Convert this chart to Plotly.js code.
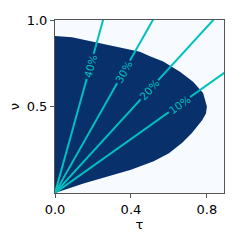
<!DOCTYPE html>
<html><head><meta charset="utf-8">
<script src="https://cdn.plot.ly/plotly-3.0.1.min.js"></script>
<style>html,body{margin:0;padding:0;background:#fff;}#chart{width:241px;height:241px;}</style>
</head><body><div id="chart"></div>
<script>
// Boundary of the feasible region (tau, nu)
const boundaryTau = [0.0, 0.09, 0.2, 0.28, 0.36, 0.447, 0.5, 0.57, 0.66, 0.727, 0.78, 0.80, 0.795, 0.775, 0.72, 0.67, 0.6, 0.52, 0.4, 0.33, 0.15, 0.0, 0.0];
const boundaryNu  = [0.908, 0.9, 0.875, 0.855, 0.838, 0.817, 0.79, 0.76, 0.70, 0.643, 0.578, 0.5, 0.46, 0.42, 0.345, 0.29, 0.23, 0.183, 0.134, 0.113, 0.055, 0.0, 0.908];
// Lines through the origin: label, slope (nu / tau), nu of label
const lineLabels = ["10%", "20%", "30%", "40%"];
const lineSlopes = [0.78, 1.2, 1.94, 3.95];
const labelNu = [0.51, 0.595, 0.70, 0.73];

const xMax = 0.89;
const plotW = 169, plotH = 173;
const cyan = '#00bfbf';
const navy = '#08306b';

const traces = [{
  x: boundaryTau, y: boundaryNu, type: 'scatter', mode: 'lines',
  fill: 'toself', fillcolor: navy, line: {width: 0, color: navy},
  hoverinfo: 'skip', showlegend: false
}];
const annotations = [];
lineSlopes.forEach((s, i) => {
  traces.push({x: [0, 1.2], y: [0, 1.2 * s], type: 'scatter', mode: 'lines',
    line: {color: cyan, width: 2}, showlegend: false, hoverinfo: 'skip'});
  const ang = Math.atan(s * (plotH / 1.0) / (plotW / xMax)) * 180 / Math.PI;
  annotations.push({x: labelNu[i] / s, y: labelNu[i], xref: 'x', yref: 'y',
    text: lineLabels[i], showarrow: false, textangle: -ang,
    font: {family: 'DejaVu Sans', size: 10.5, color: cyan},
    bgcolor: navy, borderpad: 1});
});

const axisCommon = {
  showgrid: false, zeroline: false, showline: true, mirror: true,
  linecolor: '#555', linewidth: 1, ticks: 'outside', ticklen: 4, tickwidth: 1,
  tickcolor: '#555', tickfont: {family: 'DejaVu Sans', size: 13, color: '#000'}
};
const layout = {
  width: 241, height: 241,
  margin: {l: 55, r: 17, t: 20, b: 48},
  paper_bgcolor: '#fff', plot_bgcolor: '#f7fbff',
  xaxis: Object.assign({}, axisCommon, {range: [0, xMax], tickvals: [0, 0.4, 0.8], ticktext: ['0.0', '0.4', '0.8'],
    title: {text: 'τ', font: {family: 'DejaVu Sans', size: 13, color: '#000'}, standoff: 0}}),
  yaxis: Object.assign({}, axisCommon, {range: [0, 1.0], tickvals: [0.5, 1.0], ticktext: ['0.5', '1.0'],
    title: {text: 'ν', font: {family: 'DejaVu Sans', size: 13, color: '#000'}, standoff: 4}}),
  annotations: annotations
};
Plotly.newPlot('chart', traces, layout, {staticPlot: true, displayModeBar: false});
</script></body></html>
